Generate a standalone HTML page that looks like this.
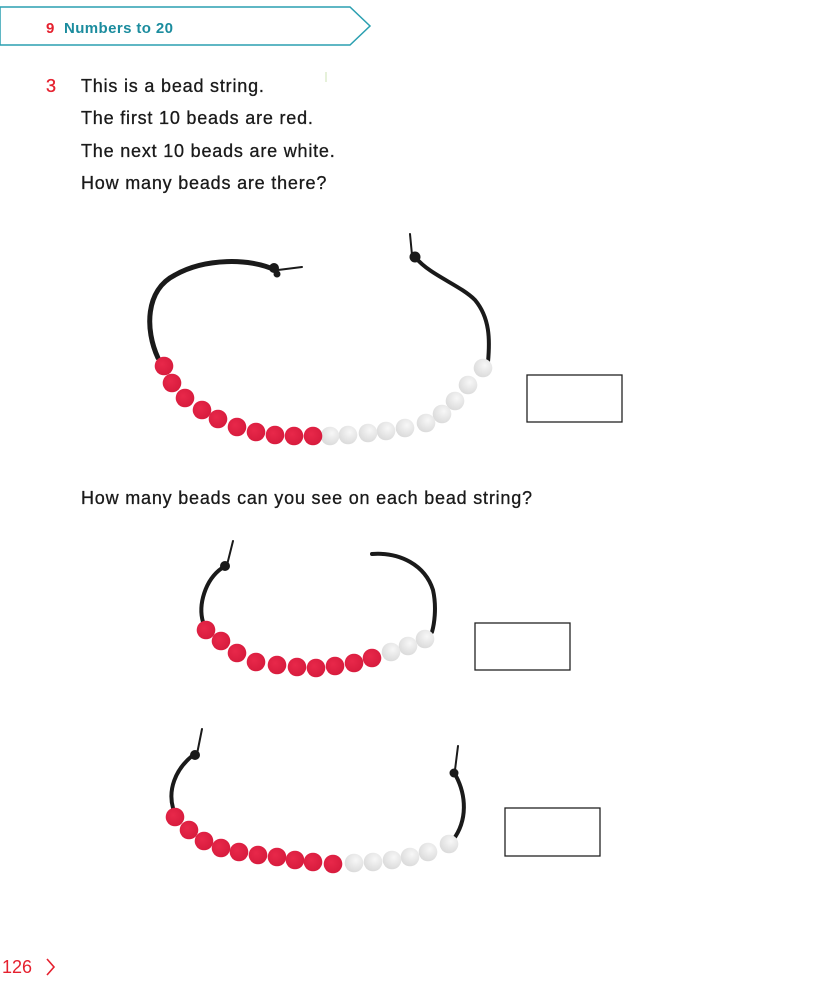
<!DOCTYPE html>
<html><head><meta charset="utf-8">
<style>
html,body{margin:0;padding:0;background:#fff;}
body{width:828px;height:992px;position:relative;overflow:hidden;font-family:"Liberation Sans",sans-serif;}
svg{position:absolute;left:0;top:0;}
</style></head>
<body>
<svg width="828" height="992" viewBox="0 0 828 992">
  <defs>
    <radialGradient id="rg" cx="0.4" cy="0.4" r="0.6"><stop offset="0" stop-color="#e8284a"/><stop offset="1" stop-color="#d81c3e"/></radialGradient>
    <radialGradient id="wg" cx="0.6" cy="0.35" r="0.7"><stop offset="0" stop-color="#f7f7f7"/><stop offset="1" stop-color="#d9d9d9"/></radialGradient>
  </defs>
  <g>
    <polygon points="0,7 350,7 370,26 350,45 0,45" fill="#fff" stroke="#2a9fb0" stroke-width="1.5"/>
    <text x="46" y="33" font-size="15" font-weight="bold" fill="#e5202e">9</text>
    <text x="64" y="33" font-size="15" font-weight="bold" fill="#1b8c9e" letter-spacing="0.4">Numbers to 20</text>
  </g>
  <g font-size="18" fill="#1a1a1a" stroke="#1a1a1a" stroke-width="0.3" letter-spacing="0.8">
    <text x="46" y="92" fill="#e5202e" stroke="#e5202e">3</text>
    <text x="81" y="92">This is a bead string.</text>
    <text x="81" y="124">The first 10 beads are red.</text>
    <text x="81" y="157">The next 10 beads are white.</text>
    <text x="81" y="189">How many beads are there?</text>
    <text x="81" y="504">How many beads can you see on each bead string?</text>
  </g>
  <line x1="326" y1="72" x2="326" y2="82" stroke="#cde3b5" stroke-width="1"/>

  <g fill="none" stroke="#1a1a1a" stroke-linecap="round">
    <path d="M158,358 C145,330 145,290 175,275 C205,258 250,258 275,270" stroke-width="5"/>
    <line x1="278" y1="270" x2="302" y2="267" stroke-width="2"/>
    <circle cx="274" cy="268" r="5" fill="#1a1a1a" stroke="none"/>
    <circle cx="277" cy="274" r="3.5" fill="#1a1a1a" stroke="none"/>
    <line x1="410" y1="234" x2="412" y2="255" stroke-width="2"/>
    <path d="M416,258 C430,275 460,285 475,300 C490,318 490,340 488,362" stroke-width="4"/>
    <circle cx="415" cy="257" r="5.5" fill="#1a1a1a" stroke="none"/>
  </g>
  <g fill="none" stroke="#1a1a1a" stroke-linecap="round">
    <path d="M203,622 C198,605 205,580 222,568" stroke-width="4"/>
    <line x1="227" y1="565" x2="233" y2="541" stroke-width="2"/>
    <circle cx="225" cy="566" r="5" fill="#1a1a1a" stroke="none"/>
    <path d="M372,554 C400,552 425,565 433,590 C437,608 434,625 432,632" stroke-width="4"/>
  </g>
  <g fill="none" stroke="#1a1a1a" stroke-linecap="round">
    <path d="M173,808 C168,790 175,770 192,756" stroke-width="4"/>
    <line x1="197" y1="754" x2="202" y2="729" stroke-width="2"/>
    <circle cx="195" cy="755" r="5" fill="#1a1a1a" stroke="none"/>
    <line x1="455" y1="770" x2="458" y2="746" stroke-width="2"/>
    <circle cx="454" cy="773" r="4.5" fill="#1a1a1a" stroke="none"/>
    <path d="M456,776 C466,795 468,820 453,840" stroke-width="4"/>
  </g>

  <g id="beads"></g>

  <rect x="527" y="375" width="95" height="47" fill="#fff" stroke="#222" stroke-width="1.3"/>
  <rect x="475" y="623" width="95" height="47" fill="#fff" stroke="#222" stroke-width="1.3"/>
  <rect x="505" y="808" width="95" height="48" fill="#fff" stroke="#222" stroke-width="1.3"/>

  <g>
    <text x="2" y="973" font-size="18" fill="#e5202e">126</text>
    <polyline points="47,959 54,967 47,975" fill="none" stroke="#e5202e" stroke-width="1.6"/>
  </g>
</svg>
<script>
const redBeads1=[[164,366],[172,383],[185,398],[202,410],[218,419],[237,427],[256,432],[275,435],[294,436],[313,436]];
const whiteBeads1=[[483,368],[468,385],[455,401],[442,414],[426,423],[405,428],[386,431],[368,433],[348,435],[330,436]];
const redBeads2=[[206,630],[221,641],[237,653],[256,662],[277,665],[297,667],[316,668],[335,666],[354,663],[372,658]];
const whiteBeads2=[[425,639],[408,646],[391,652]];
const redBeads3=[[175,817],[189,830],[204,841],[221,848],[239,852],[258,855],[277,857],[295,860],[313,862],[333,864]];
const whiteBeads3=[[449,844],[428,852],[410,857],[392,860],[373,862],[354,863]];
const g=document.getElementById('beads');
function draw(list,fill,name){
  list.forEach(function(p){
    const c=document.createElementNS('http://www.w3.org/2000/svg','circle');
    c.setAttribute('cx',p[0]);c.setAttribute('cy',p[1]);c.setAttribute('r',9.3);
    c.setAttribute('fill',fill);
    
    
    g.appendChild(c);
  });
}
draw(whiteBeads1,'url(#wg)','white-bead');draw(redBeads1,'url(#rg)','red-bead');
draw(whiteBeads2,'url(#wg)','white-bead');draw(redBeads2,'url(#rg)','red-bead');
draw(whiteBeads3,'url(#wg)','white-bead');draw(redBeads3,'url(#rg)','red-bead');
</script>
</body></html>
